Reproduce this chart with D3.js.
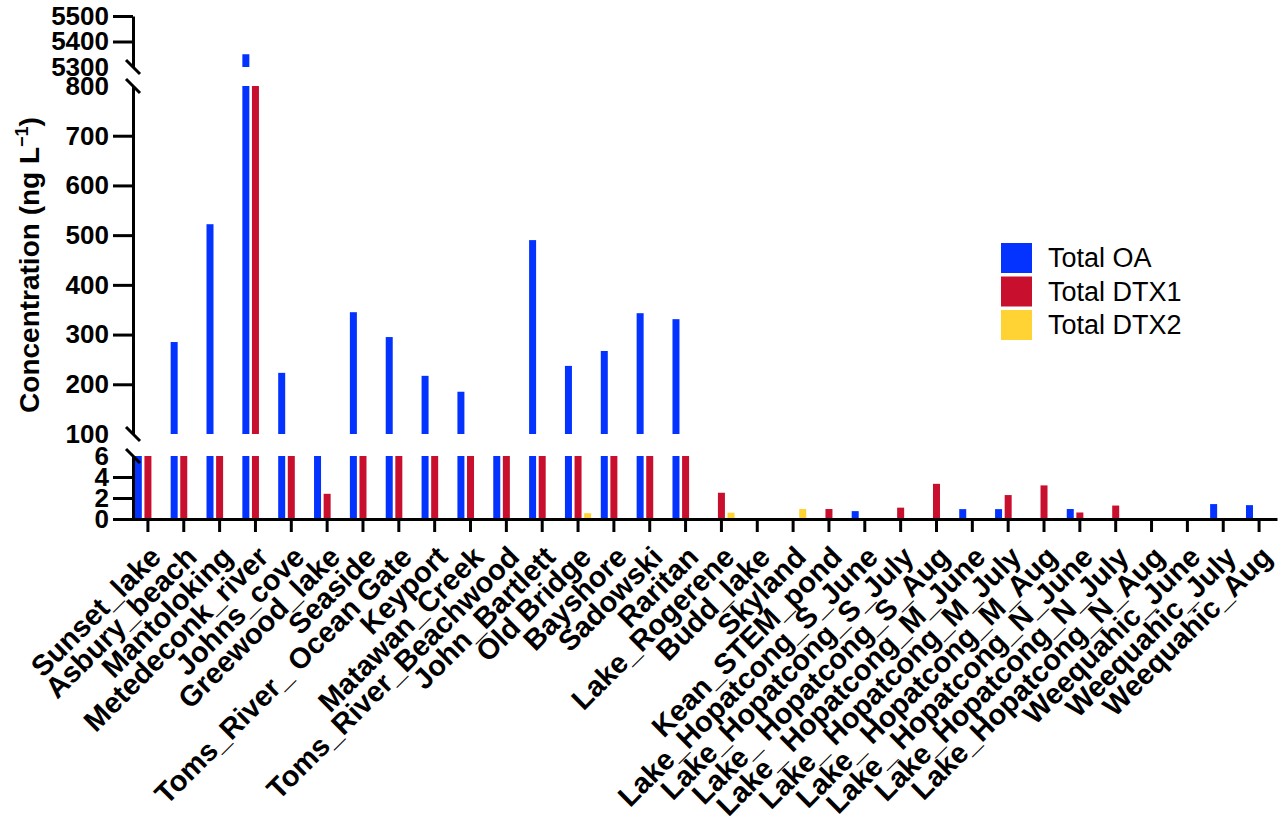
<!DOCTYPE html>
<html>
<head>
<meta charset="utf-8">
<script src="https://cdn.jsdelivr.net/npm/d3@7"></script>
<style>
  body { margin: 0; background: #fff; }
  text { font-family: "Liberation Sans", Arial, sans-serif; }
</style>
</head>
<body>
<div id="chart"></div>
<script>
const width = 1284,
  height = 826;

// sites along the x axis
const sites = [
  "Sunset_lake", "Asbury_beach", "Mantoloking", "Metedeconk_river", "Johns_cove",
  "Greewood_lake", "Seaside", "Toms_River_ Ocean Gate", "Keyport", "Matawan_Creek",
  "Toms_River_Beachwood", "John_Bartlett", "Old Bridge", "Bayshore", "Sadowski",
  "Raritan", "Lake_Rogerene", "Budd_lake", "Skyland", "Kean_STEM_pond",
  "Lake_Hopatcong_S_June", "Lake_Hopatcong_S_July", "Lake_ Hopatcong_S_Aug",
  "Lake_ Hopatcong_M_June", "Lake_ Hopatcong_M_July", "Lake_ Hopatcong_M_Aug",
  "Lake_ Hopatcong_N_June", "Lake_Hopatcong_N_July", "Lake_Hopatcong_N_Aug",
  "Weequahic_June", "Weequahic_July", "Weequahic_Aug"
];

// ng/L (values hidden inside a break are estimates)
const totalOA = [
  40, 285, 522, 5350, 223, 45, 345, 295, 217, 185,
  35, 490, 237, 267, 343, 331, 0, 0, 0, 0,
  0.75, 0, 0, 0.94, 0.94, 0, 0.95, 0, 0, 0,
  1.42, 1.32
];
const totalDTX1 = [
  30, 25, 40, 950, 20, 2.4, 30, 25, 20, 15,
  20, 35, 20, 25, 30, 25, 2.5, 0, 0, 0.95,
  0, 1.08, 3.35, 0, 2.28, 3.2, 0.62, 1.28, 0, 0,
  0, 0
];
const totalDTX2 = [
  0, 0, 0, 0, 0, 0, 0, 0, 0, 0,
  0, 0, 0.55, 0, 0, 0, 0.6, 0, 0.95, 0,
  0, 0, 0, 0, 0, 0, 0, 0, 0, 0,
  0, 0
];

const seriesNames = ["Total OA", "Total DTX1", "Total DTX2"];
const seriesColors = ["#0433FF", "#C8102E", "#FFD333"];

// tick labels of the three axis pieces
const bottomTicks = [0, 2, 4, 6];
const middleTicks = [100, 200, 300, 400, 500, 600, 700, 800];
const topTicks = [5300, 5400, 5500];

const axisX = 133;
const baseY = 519;

const segments = [
  { lo: 0, hi: 6, range: [baseY, 456], ticks: bottomTicks, noTick: [6] },
  { lo: 100, hi: 800, range: [434, 86], ticks: middleTicks, noTick: [100, 800] },
  { lo: 5300, hi: 5500, range: [67, 16], ticks: topTicks, noTick: [5300] }
];

const svg = d3
  .select("#chart")
  .append("svg")
  .attr("width", width)
  .attr("height", height);

const xScale = d3
  .scaleBand()
  .domain(sites)
  .range([130, 1277]);

const barW = 7,
  barStep = 9.6;

const series = [totalOA, totalDTX1, totalDTX2];

segments.forEach(seg => {
  const y = d3.scaleLinear().domain([seg.lo, seg.hi]).range(seg.range);
  seg.y = y;

  // bars, clipped to the piece
  series.forEach((values, i) => {
    const rows = sites
      .map((s, j) => ({ site: s, v: values[j] }))
      .filter(d => d.v > seg.lo);
    svg
      .append("g")
      .selectAll("rect")
      .data(rows)
      .join("rect")
      .attr("x", d => xScale(d.site) + xScale.bandwidth() / 2 + (i - 1) * barStep - barW / 2)
      .attr("y", d => y(Math.min(d.v, seg.hi)))
      .attr("width", barW)
      .attr("height", d => y(seg.lo) - y(Math.min(d.v, seg.hi)))
      .attr("fill", seriesColors[i]);
  });

  const g = svg
    .append("g")
    .attr("class", "y-axis")
    .attr("transform", `translate(${axisX},0)`)
    .call(
      d3.axisLeft(y)
        .tickValues(seg.ticks)
        .tickFormat(d3.format("d"))
        .tickSize(20)
        .tickSizeOuter(0)
        .tickPadding(4)
    );

  g.select(".domain").attr("stroke", "#000").attr("stroke-width", 3);
  g.selectAll(".tick line")
    .attr("stroke", "#000")
    .attr("stroke-width", 3)
    .filter(d => seg.noTick.includes(d))
    .remove();
  g.selectAll(".tick text")
    .attr("font-size", 26)
    .attr("font-weight", "bold")
    .attr("fill", "#000");
});

// break marks at the ends of each piece
const breakEnds = [
  segments[0].y(6),
  segments[1].y(100),
  segments[1].y(800),
  segments[2].y(5300)
];
svg
  .append("g")
  .selectAll("line")
  .data(breakEnds)
  .join("line")
  .attr("x1", axisX - 7)
  .attr("y1", d => d - 7)
  .attr("x2", axisX + 7)
  .attr("y2", d => d + 7)
  .attr("stroke", "#000")
  .attr("stroke-width", 3);

// x axis
const xg = svg
  .append("g")
  .attr("class", "x-axis")
  .attr("transform", `translate(0,${baseY})`)
  .call(d3.axisBottom(xScale).tickSize(13).tickSizeOuter(0));

xg.select(".domain").attr("stroke", "#000").attr("stroke-width", 3);
xg.selectAll(".tick line").attr("stroke", "#000").attr("stroke-width", 3);
xg.selectAll(".tick text")
  .attr("x", 0)
  .attr("y", 0)
  .attr("dy", "0.72em")
  .attr("transform", "translate(0,25) rotate(-45)")
  .attr("text-anchor", "end")
  .attr("font-size", 29)
  .attr("font-weight", "bold")
  .attr("fill", "#000");

// y axis title
const title = svg
  .append("text")
  .attr("transform", "translate(29,265) rotate(-90)")
  .attr("text-anchor", "middle")
  .attr("dy", "0.35em")
  .attr("font-size", 28)
  .attr("font-weight", "bold");
title.append("tspan").text("Concentration (ng L");
title.append("tspan").attr("font-size", 18).attr("dy", -11).text("\u22121");
title.append("tspan").attr("dy", 11).text(")");

// legend
const legend = svg
  .append("g")
  .attr("transform", "translate(1001,243)")
  .selectAll("g")
  .data(seriesNames)
  .join("g")
  .attr("transform", (d, i) => `translate(0,${i * 33.5})`);

legend
  .append("rect")
  .attr("width", 31)
  .attr("height", 30)
  .attr("fill", (d, i) => seriesColors[i]);

legend
  .append("text")
  .attr("x", 47)
  .attr("y", 15)
  .attr("dy", "0.35em")
  .attr("font-size", 27)
  .text(d => d);
</script>
</body>
</html>
